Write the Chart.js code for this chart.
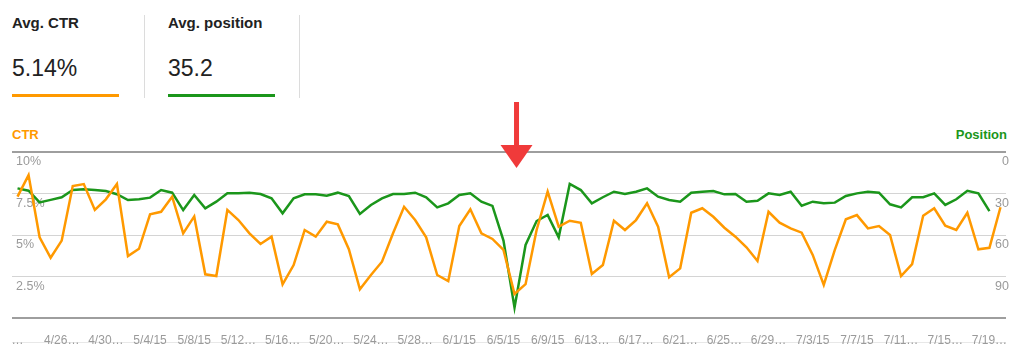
<!DOCTYPE html>
<html>
<head>
<meta charset="utf-8">
<script src="https://cdn.jsdelivr.net/npm/chart.js@4.4.1/dist/chart.umd.min.js"></script>
<style>
  body{margin:0;background:#fff;width:1024px;height:345px;overflow:hidden;position:relative;font-family:'Liberation Sans',Arial,sans-serif;color:#222}
  .lbl{position:absolute;top:15px;font-size:15px;line-height:15px;font-weight:bold}
  .val{position:absolute;top:57px;font-size:23px;line-height:23px}
  .bar{position:absolute;top:94px;height:3px;width:107px}
  .sep{position:absolute;top:15px;height:83px;width:1px;background:#dcdcdc}
  .axt{position:absolute;top:128px;font-size:13px;line-height:13px;font-weight:bold}
  #wrap{position:absolute;left:0;top:100px;width:1024px;height:245px}
  .foot{position:absolute;left:12px;top:342px;width:994px;height:1px;background:#e8e8e8}
</style>
</head>
<body>
<div class="lbl" style="left:12px">Avg. CTR</div>
<div class="val" style="left:12px">5.14%</div>
<div class="bar" style="left:12px;background:#ff9900"></div>
<div class="sep" style="left:144px"></div>
<div class="lbl" style="left:168px">Avg. position</div>
<div class="val" style="left:168px">35.2</div>
<div class="bar" style="left:168px;background:#1b961b"></div>
<div class="sep" style="left:299px"></div>
<div class="axt" style="left:12px;color:#ff9900">CTR</div>
<div class="axt" style="right:17px;color:#1b961b">Position</div>
<div class="foot"></div>
<div id="wrap"><canvas id="chart"></canvas></div>
<script>
// one point per day, 4/22/15 .. 7/20/15
const dates = [
  '4/22/15','4/23/15','4/24/15','4/25/15','4/26/15','4/27/15','4/28/15','4/29/15','4/30/15','5/1/15',
  '5/2/15','5/3/15','5/4/15','5/5/15','5/6/15','5/7/15','5/8/15','5/9/15','5/10/15','5/11/15',
  '5/12/15','5/13/15','5/14/15','5/15/15','5/16/15','5/17/15','5/18/15','5/19/15','5/20/15','5/21/15',
  '5/22/15','5/23/15','5/24/15','5/25/15','5/26/15','5/27/15','5/28/15','5/29/15','5/30/15','5/31/15',
  '6/1/15','6/2/15','6/3/15','6/4/15','6/5/15','6/6/15','6/7/15','6/8/15','6/9/15','6/10/15',
  '6/11/15','6/12/15','6/13/15','6/14/15','6/15/15','6/16/15','6/17/15','6/18/15','6/19/15','6/20/15',
  '6/21/15','6/22/15','6/23/15','6/24/15','6/25/15','6/26/15','6/27/15','6/28/15','6/29/15','6/30/15',
  '7/1/15','7/2/15','7/3/15','7/4/15','7/5/15','7/6/15','7/7/15','7/8/15','7/9/15','7/10/15',
  '7/11/15','7/12/15','7/13/15','7/14/15','7/15/15','7/16/15','7/17/15','7/18/15','7/19/15','7/20/15'
];

// CTR in %
const ctr = [
  7.31, 8.61, 4.86, 3.63, 4.66, 7.95, 8.07, 6.51, 7.15, 8.07,
  3.73, 4.17, 6.25, 6.40, 7.31, 5.10, 6.12, 2.63, 2.53, 6.51,
  5.90, 5.10, 4.46, 4.90, 2.03, 3.19, 5.30, 4.90, 5.80, 5.64,
  4.14, 1.73, 2.59, 3.39, 5.10, 6.70, 5.90, 4.86, 2.59, 2.23,
  5.54, 6.55, 5.10, 4.76, 4.10, 1.45, 2.04, 5.30, 7.61, 5.50,
  5.86, 5.74, 2.65, 3.19, 5.86, 5.30, 5.90, 6.91, 5.50, 2.45,
  2.99, 6.34, 6.61, 6.10, 5.44, 4.90, 4.26, 3.43, 6.40, 5.74,
  5.40, 5.14, 3.80, 1.99, 4.10, 5.95, 6.20, 5.40, 5.54, 5.00,
  2.53, 3.25, 6.16, 6.61, 5.56, 5.30, 6.34, 4.14, 4.23, 6.67
];

// average position (lower is better, axis reversed)
const position = [
  26.3, 28.0, 36.4, 34.6, 32.7, 27.5, 27.0, 27.5, 28.2, 30.5,
  34.7, 34.2, 33.0, 27.5, 29.4, 42.0, 31.1, 40.7, 35.9, 29.9,
  29.9, 29.4, 30.4, 33.5, 44.3, 33.5, 30.6, 30.6, 31.6, 29.4,
  31.8, 44.8, 38.3, 33.5, 30.4, 30.4, 29.4, 32.7, 40.0, 37.1,
  31.1, 29.9, 35.9, 39.0, 64.0, 112.5, 67.2, 49.9, 45.5, 61.7,
  23.1, 27.5, 37.1, 32.7, 28.7, 30.4, 28.7, 26.3, 32.3, 34.7,
  35.9, 29.4, 28.7, 28.2, 30.6, 30.4, 35.9, 35.2, 29.9, 31.1,
  28.7, 38.8, 35.9, 37.1, 36.6, 31.8, 29.9, 28.7, 29.4, 37.8,
  40.0, 32.7, 32.7, 29.9, 38.3, 34.2, 28.0, 29.9, 42.7, null
];

// shown every 4th day, truncated like the original
const tickLabels = ['…','4/26…','4/30…','5/4/15','5/8/15','5/12…','5/16…','5/20…','5/24…','5/28…','6/1/15','6/5/15',
  '6/9/15','6/13…','6/17…','6/21…','6/25…','6/29…','7/3/15','7/7/15','7/11…','7/15…','7/19…'];

const ctrTicks = [0, 2.5, 5, 7.5, 10];
const posTicks = [0, 30, 60, 90, 120];
const arrowDate = '6/6/15';

const ORANGE = '#ff9900', GREEN = '#1b961b', GRAY = '#9a9a9a';
const font = {family:"'Liberation Sans', Arial, sans-serif", size:12};

const arrowPlugin = {
  id:'arrow',
  afterDatasetsDraw(chart){
    const {ctx, chartArea, scales:{x}} = chart;
    const cx = x.getPixelForValue(dates.indexOf(arrowDate)) + 2;
    const top = chartArea.top;
    ctx.save();
    ctx.fillStyle = '#f03a3a';
    ctx.fillRect(cx - 2.5, top - 50, 5, 45);
    ctx.beginPath();
    ctx.moveTo(cx - 16, top - 7);
    ctx.lineTo(cx + 16, top - 7);
    ctx.lineTo(cx, top + 16);
    ctx.closePath();
    ctx.fill();
    ctx.restore();
  }
};

new Chart(document.getElementById('chart'), {
  type:'line',
  data:{
    labels:dates,
    datasets:[
      {label:'CTR', data:ctr, yAxisID:'y', borderColor:ORANGE, borderWidth:2.5, pointRadius:0, tension:0},
      {label:'Position', data:position, yAxisID:'y1', borderColor:GREEN, borderWidth:2.5, pointRadius:0, tension:0}
    ]
  },
  options:{
    responsive:true, maintainAspectRatio:false, animation:false,
    layout:{padding:{top:52, left:0, right:0, bottom:0}},
    plugins:{legend:{display:false}, tooltip:{enabled:false}},
    scales:{
      x:{
        offset:true,
        grid:{display:false}, border:{display:false},
        afterFit:s=>{ s.height = 27; },
        ticks:{
          autoSkip:false, maxRotation:0, minRotation:0, padding:7, color:GRAY, font,
          callback:(v,i)=> i % 4 === 0 ? tickLabels[i/4] : ''
        }
      },
      y:{
        position:'left', min:0, max:10,
        afterFit:s=>{ s.width = 12; },
        afterBuildTicks:s=>{ s.ticks = ctrTicks.map(v=>({value:v})); },
        border:{display:false},
        grid:{
          drawTicks:false,
          color:c=> (c.tick.value === 0 || c.tick.value === 10) ? '#9e9e9e' : '#d4d4d4',
          lineWidth:c=> (c.tick.value === 0 || c.tick.value === 10) ? 2 : 1
        },
        ticks:{
          mirror:true, padding:4, labelOffset:10, color:GRAY, font:{...font, size:12.5},
          callback:v=> v === 0 ? '' : v + '%'
        }
      },
      y1:{
        position:'right', min:0, max:120, reverse:true,
        afterFit:s=>{ s.width = 18; },
        afterBuildTicks:s=>{ s.ticks = posTicks.map(v=>({value:v})); },
        border:{display:false},
        grid:{display:false, drawTicks:false},
        ticks:{
          mirror:true, padding:3, labelOffset:10, color:GRAY, font:{...font, size:12.5},
          callback:v=> v === 120 ? '' : v
        }
      }
    }
  },
  plugins:[arrowPlugin]
});
</script>
</body>
</html>
